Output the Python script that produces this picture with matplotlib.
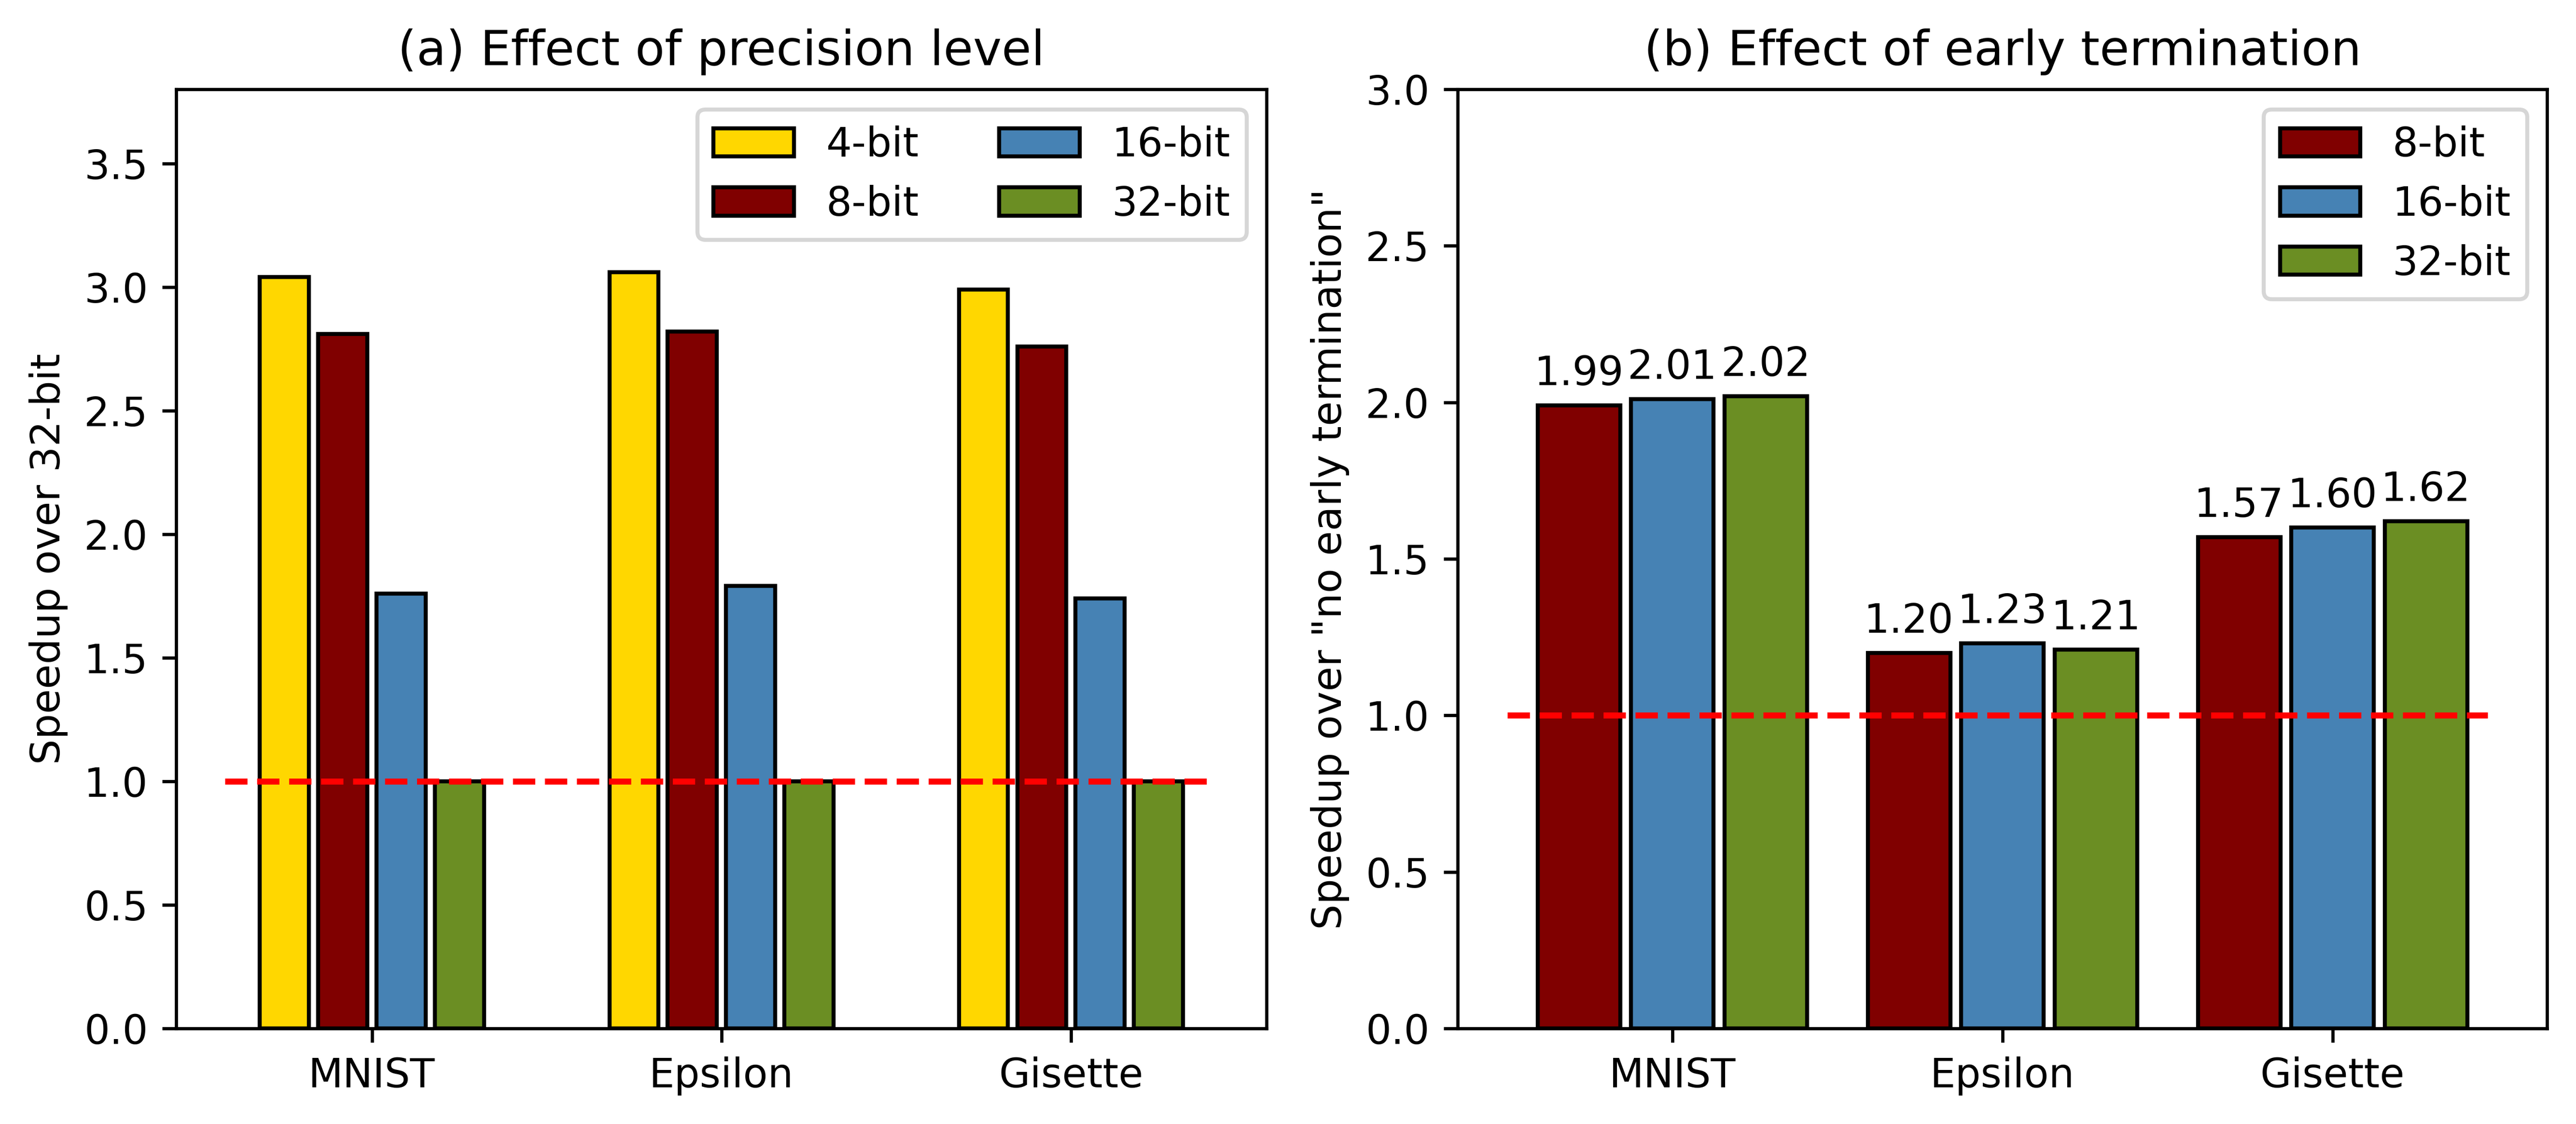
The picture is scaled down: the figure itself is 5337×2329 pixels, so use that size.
import matplotlib.pyplot as plt
import numpy as np

# datasets and precision levels
datasets = ['MNIST', 'Epsilon', 'Gisette']
bits_a = ['4-bit', '8-bit', '16-bit', '32-bit']
bits_b = ['8-bit', '16-bit', '32-bit']
colors = {'4-bit': 'gold', '8-bit': 'maroon', '16-bit': 'steelblue', '32-bit': 'olivedrab'}

# (a) speedup over 32-bit
speed_4bit = [3.04, 3.06, 2.99]
speed_8bit = [2.81, 2.82, 2.76]
speed_16bit = [1.76, 1.79, 1.74]
speed_32bit = [1.00, 1.00, 1.00]

# (b) speedup over no early termination
et_8bit = [1.99, 1.20, 1.57]
et_16bit = [2.01, 1.23, 1.60]
et_32bit = [2.02, 1.21, 1.62]

fig = plt.figure(figsize=(5337 / 600, 2329 / 600), dpi=600)
ax1 = fig.add_axes([0.0684, 0.085, 0.4233, 0.8356])
ax2 = fig.add_axes([0.5659, 0.085, 0.4229, 0.8356])

x = np.arange(len(datasets))

# 左图
pitch = 0.167
series_a = [speed_4bit, speed_8bit, speed_16bit, speed_32bit]
for i, (name, vals) in enumerate(zip(bits_a, series_a)):
    ax1.bar(x + (i - 1.5) * pitch, vals, width=0.14, color=colors[name],
            edgecolor='black', linewidth=1, label=name)
ax1.hlines(1.0, -0.42, 2.39, colors='red', linestyles='--', linewidth=1.5)
ax1.set_xticks(x)
ax1.set_xticklabels(datasets)
ax1.set_xlim(-0.56, 2.56)
ax1.set_ylim(0, 3.8)
ax1.set_ylabel('Speedup over 32-bit')
ax1.set_title('(a) Effect of precision level')
ax1.legend(ncol=2, loc='upper right')

# 右图
pitch_b = 0.283
series_b = [et_8bit, et_16bit, et_32bit]
for i, (name, vals) in enumerate(zip(bits_b, series_b)):
    bars = ax2.bar(x + (i - 1) * pitch_b, vals, width=0.25, color=colors[name],
                   edgecolor='black', linewidth=1, label=name)
    for b, v in zip(bars, vals):
        ax2.annotate(f'{v:.2f}', (b.get_x() + b.get_width() / 2, v),
                     xytext=(0, 3), textcoords='offset points',
                     ha='center', va='bottom')
ax2.hlines(1.0, -0.5, 2.47, colors='red', linestyles='--', linewidth=1.5)
ax2.set_xticks(x)
ax2.set_xticklabels(datasets)
ax2.set_xlim(-0.65, 2.65)
ax2.set_ylim(0, 3.0)
ax2.set_ylabel('Speedup over "no early termination"')
ax2.set_title('(b) Effect of early termination')
ax2.legend(loc='upper right')

fig.savefig('out.png', dpi=600)
